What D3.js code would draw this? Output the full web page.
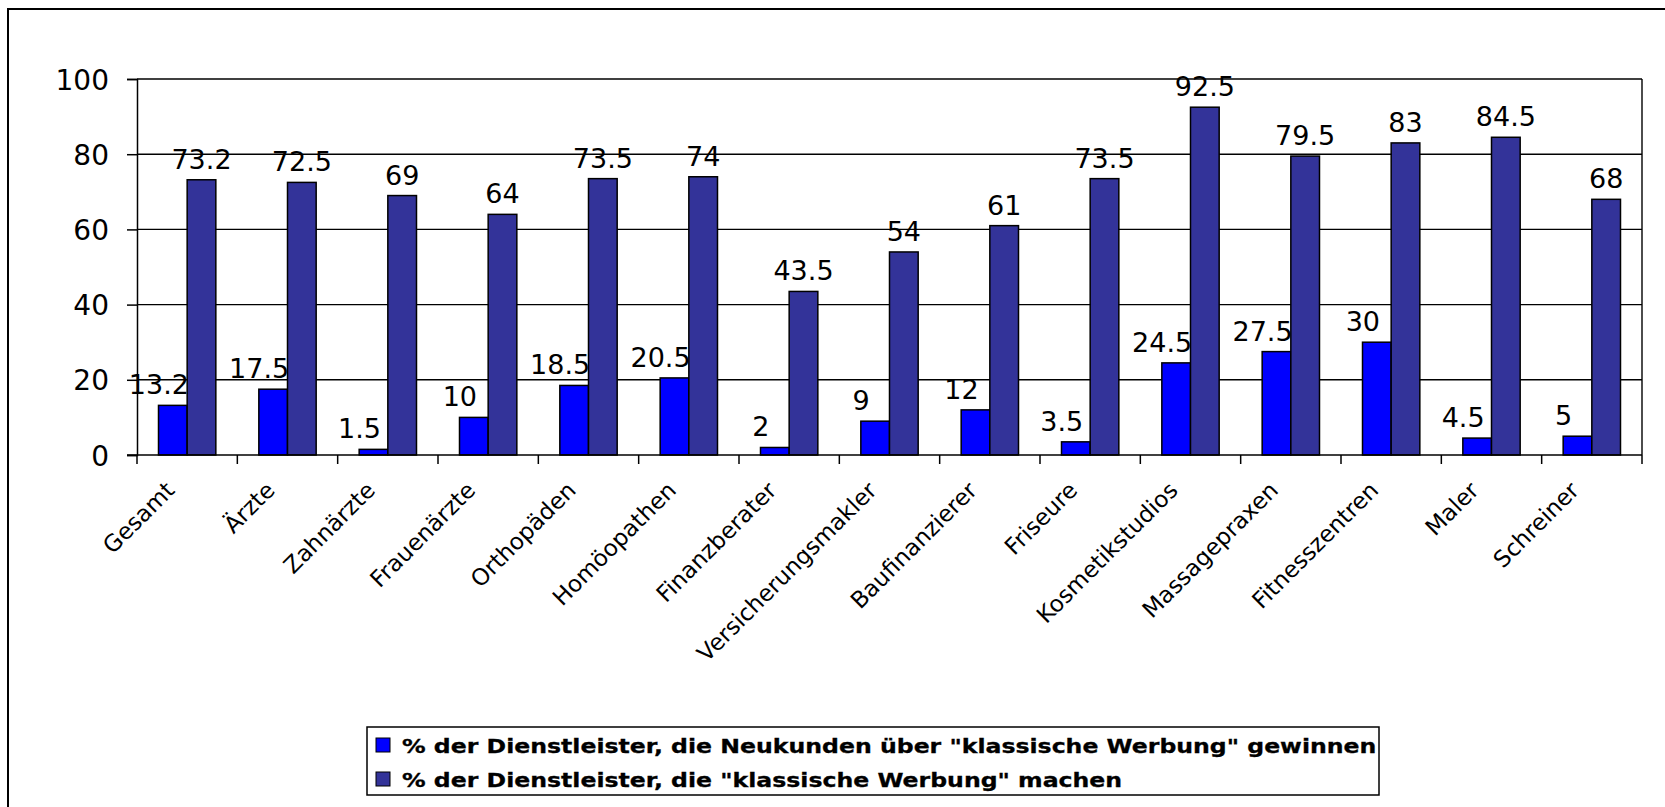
<!DOCTYPE html>
<html>
<head>
<meta charset="utf-8">
<script src="https://cdn.jsdelivr.net/npm/d3@7"></script>
<style>
  body { margin: 0; background: #fff; }
  svg { display: block; }
  text { font-family: "DejaVu Sans", Verdana, sans-serif; fill: #000; }
</style>
</head>
<body>
<div id="chart"></div>
<script>
var categories = ["Gesamt", "Ärzte", "Zahnärzte", "Frauenärzte", "Orthopäden", "Homöopathen",
    "Finanzberater", "Versicherungsmakler", "Baufinanzierer", "Friseure", "Kosmetikstudios",
    "Massagepraxen", "Fitnesszentren", "Maler", "Schreiner"];
var gewinnen = [13.2, 17.5, 1.5, 10, 18.5, 20.5, 2, 9, 12, 3.5, 24.5, 27.5, 30, 4.5, 5];
var machen = [73.2, 72.5, 69, 64, 73.5, 74, 43.5, 54, 61, 73.5, 92.5, 79.5, 83, 84.5, 68];
var seriesNames = ['% der Dienstleister, die Neukunden über "klassische Werbung" gewinnen',
    '% der Dienstleister, die "klassische Werbung" machen'];
var seriesColors = ["#0000ff", "#333399"];
var yTicks = [0, 20, 40, 60, 80, 100];

var width = 1665, height = 807;
var plot = {left: 137, top: 79, right: 1642, bottom: 455};
var labelShift = [-14, 0];   // excel puts the blue labels a bit left of the bar

var svg = d3.select("#chart").append("svg")
    .attr("width", width)
    .attr("height", height);

// outer frame (runs off the right and bottom edges)
svg.append("rect")
    .attr("x", 8).attr("y", 9)
    .attr("width", 1720).attr("height", 900)
    .attr("fill", "#fff")
    .attr("stroke", "#000")
    .attr("stroke-width", 2);

var x0 = d3.scaleBand()
    .domain(categories)
    .range([plot.left, plot.right])
    .paddingInner(1.5 / 3.5)
    .paddingOuter(0.75 / 3.5);

var step = (plot.right - plot.left) / categories.length;

var x1 = d3.scaleBand()
    .domain([0, 1])
    .range([0, x0.bandwidth()]);

var y = d3.scaleLinear()
    .domain([0, 100])
    .range([plot.bottom, plot.top]);

// gridlines
svg.append("g").selectAll("line")
    .data(yTicks.slice(1))
    .enter().append("line")
    .attr("x1", plot.left).attr("x2", plot.right)
    .attr("y1", function(d) { return y(d); })
    .attr("y2", function(d) { return y(d); })
    .attr("stroke", "#000")
    .attr("stroke-width", 1.4);

// right border of plot area
svg.append("line")
    .attr("x1", plot.right).attr("x2", plot.right)
    .attr("y1", plot.top).attr("y2", plot.bottom)
    .attr("stroke", "#000")
    .attr("stroke-width", 1.4);

var data = categories.map(function(c, i) {
    return {cat: c, values: [gewinnen[i], machen[i]]};
});

var groups = svg.append("g").selectAll("g")
    .data(data)
    .enter().append("g")
    .attr("transform", function(d) { return "translate(" + x0(d.cat) + ",0)"; });

groups.selectAll("rect")
    .data(function(d) { return d.values; })
    .enter().append("rect")
    .attr("x", function(d, i) { return x1(i); })
    .attr("y", function(d) { return y(d); })
    .attr("width", x1.bandwidth())
    .attr("height", function(d) { return plot.bottom - y(d); })
    .attr("fill", function(d, i) { return seriesColors[i]; })
    .attr("stroke", "#000")
    .attr("stroke-width", 1.5);

// y axis
var yAxis = svg.append("g")
    .attr("transform", "translate(" + plot.left + ",0)")
    .call(d3.axisLeft(y).tickValues(yTicks).tickSize(10).tickPadding(18));
yAxis.select(".domain").attr("stroke", "#000").attr("stroke-width", 1.5);
yAxis.selectAll(".tick line").attr("stroke", "#000").attr("stroke-width", 1.5);
yAxis.selectAll(".tick text")
    .style("font-size", "28px")
    .attr("dy", "0.36em")
    .style("font-family", '"DejaVu Sans", Verdana, sans-serif');

// x axis: ticks between categories
var xTickPos = d3.range(categories.length + 1).map(function(i) { return plot.left + i * step; });
svg.append("line")
    .attr("x1", plot.left - 10).attr("x2", plot.right)
    .attr("y1", plot.bottom).attr("y2", plot.bottom)
    .attr("stroke", "#000")
    .attr("stroke-width", 1.5);
svg.append("g").selectAll("line")
    .data(xTickPos)
    .enter().append("line")
    .attr("x1", function(d) { return d; })
    .attr("x2", function(d) { return d; })
    .attr("y1", plot.bottom).attr("y2", plot.bottom + 9)
    .attr("stroke", "#000")
    .attr("stroke-width", 1.5);

svg.append("g").selectAll("text")
    .data(categories)
    .enter().append("text")
    .attr("transform", function(d) {
        var cx = x0(d) + x0.bandwidth() / 2;
        return "translate(" + (cx - 17) + "," + (plot.bottom + 31) + ") rotate(-45)";
    })
    .attr("text-anchor", "end")
    .attr("dy", "0.35em")
    .style("font-size", "23px")
    .text(function(d) { return d; });

// data labels
groups.selectAll("text.val")
    .data(function(d) { return d.values; })
    .enter().append("text")
    .attr("class", "val")
    .attr("x", function(d, i) { return x1(i) + x1.bandwidth() / 2 + labelShift[i]; })
    .attr("y", function(d) { return y(d) - 11; })
    .attr("text-anchor", "middle")
    .style("font-size", "27px")
    .text(function(d) { return d; });

// legend
var legend = svg.append("g");
legend.append("rect")
    .attr("x", 367).attr("y", 727)
    .attr("width", 1012).attr("height", 68)
    .attr("fill", "#fff")
    .attr("stroke", "#000")
    .attr("stroke-width", 1.5);

var items = legend.selectAll("g")
    .data(seriesNames)
    .enter().append("g")
    .attr("transform", function(d, i) { return "translate(376," + (738 + i * 34) + ")"; });
items.append("rect")
    .attr("width", 14).attr("height", 14)
    .attr("fill", function(d, i) { return seriesColors[i]; })
    .attr("stroke", "#000")
    .attr("stroke-width", 1);
// verdana bold is wider than dejavu bold, so stretch the text a little
items.append("text")
    .attr("transform", "translate(26,14.5) scale(1.18,1)")
    .style("font-size", "20px")
    .style("font-weight", "bold")
    .attr("stroke", "#000")
    .attr("stroke-width", 0.3)
    .text(function(d) { return d; });
</script>
</body>
</html>
